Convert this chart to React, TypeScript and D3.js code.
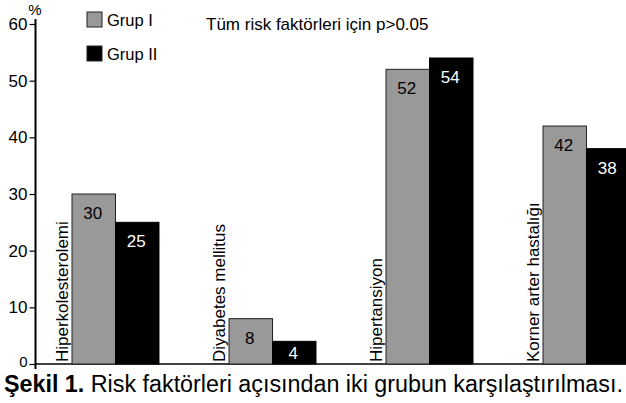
import React, { useRef, useEffect } from "react";
import { select, scaleBand, scaleLinear, axisLeft } from "d3";

const categories = ["Hiperkolesterolemi", "Diyabetes mellitus", "Hipertansiyon", "Korner arter hastalığı"];
const groups = ["Grup I", "Grup II"];
const grup1 = [30, 8, 52, 42];
const grup2 = [25, 4, 54, 38];
const yTicks = [0, 10, 20, 30, 40, 50, 60];

const colors = ["#999999", "#000000"];
const font = "'Liberation Sans', Arial, Helvetica, sans-serif";

function App() {
    const svgRef = useRef<SVGSVGElement>(null);
    const width = 626,
        height = 403;

    useEffect(() => {
        const svg = select(svgRef.current);
        svg.selectAll("*").remove();

        const yScale = scaleLinear().domain([0, 60]).range([364, 24]);

        const x0 = scaleBand<string>()
            .domain(categories)
            .range([72, 630])
            .paddingInner(0.446);

        const x1 = scaleBand<string>()
            .domain(groups)
            .range([0, x0.bandwidth()]);

        // y axis
        const yAxis = axisLeft(yScale).tickValues(yTicks).tickSize(6).tickPadding(2);
        const gy = svg.append("g").attr("transform", "translate(35.5,0)").call(yAxis);
        gy.select(".domain").remove();
        gy.selectAll("line").attr("stroke", "#000").attr("stroke-width", 1.2);
        gy.selectAll("text")
            .attr("font-family", font)
            .attr("font-size", (d: any) => (d === 0 ? 15 : 17))
            .attr("y", (d: any) => (d === 0 ? -2 : 0))
            .attr("fill", "#000");
        svg.append("line")
            .attr("x1", 35.5).attr("x2", 35.5)
            .attr("y1", 19).attr("y2", 369)
            .attr("stroke", "#000").attr("stroke-width", 2);
        svg.append("text")
            .attr("x", 35).attr("y", 15)
            .attr("text-anchor", "middle")
            .attr("font-family", font).attr("font-size", 15)
            .text("%");

        // baseline
        svg.append("line")
            .attr("x1", 35).attr("x2", width)
            .attr("y1", yScale(0)).attr("y2", yScale(0))
            .attr("stroke", "#000").attr("stroke-width", 1.5);

        const rows = categories.map((c, i) => ({ cat: c, values: [grup1[i], grup2[i]] }));

        const g = svg.selectAll(".cat")
            .data(rows)
            .join("g")
            .attr("class", "cat")
            .attr("transform", d => `translate(${x0(d.cat)},0)`);

        g.selectAll("rect")
            .data(d => d.values.map((v, j) => ({ group: groups[j], v, j })))
            .join("rect")
            .attr("x", d => x1(d.group)!)
            .attr("y", d => yScale(d.v))
            .attr("width", x1.bandwidth())
            .attr("height", d => yScale(0) - yScale(d.v))
            .attr("fill", d => colors[d.j])
            .attr("stroke", d => (d.j === 0 ? "#222" : "#000"))
            .attr("stroke-width", 1);

        g.selectAll(".val")
            .data(d => d.values.map((v, j) => ({ group: groups[j], v, j })))
            .join("text")
            .attr("class", "val")
            .attr("x", d => x1(d.group)! + x1.bandwidth() / 2 - 1)
            .attr("y", d => Math.min(yScale(d.v) + 25, yScale(0) - 5))
            .attr("text-anchor", "middle")
            .attr("font-family", font)
            .attr("font-size", 17)
            .attr("fill", d => (d.j === 0 ? "#000" : "#fff"))
            .text(d => d.v);

        g.append("text")
            .attr("transform", `translate(-4,${yScale(0) - 2}) rotate(-90)`)
            .attr("font-family", font)
            .attr("font-size", 17)
            .text(d => d.cat);

        // legend
        const legend = svg.selectAll(".legend")
            .data(groups)
            .join("g")
            .attr("class", "legend")
            .attr("transform", (d, i) => `translate(87,${12 + i * 34})`);
        legend.append("rect")
            .attr("width", 15).attr("height", 15)
            .attr("fill", (d, i) => colors[i])
            .attr("stroke", "#222");
        legend.append("text")
            .attr("x", 20).attr("y", 14)
            .attr("font-family", font).attr("font-size", 16.5)
            .text(d => d);

        svg.append("text")
            .attr("x", 206).attr("y", 30)
            .attr("font-family", font).attr("font-size", 17)
            .text("Tüm risk faktörleri için p>0.05");

        const caption = svg.append("text")
            .attr("x", 4).attr("y", 392)
            .attr("font-family", font).attr("font-size", 23.3);
        caption.append("tspan").attr("font-weight", "bold").text("Şekil 1.");
        caption.append("tspan").text(" Risk faktörleri açısından iki grubun karşılaştırılması.");
    }, []);

    return (
        <svg
            ref={svgRef}
            width={width}
            height={height}
            style={{ position: "absolute", left: 0, top: 0, background: "#fff" }}
        />
    );
}

export default App;
